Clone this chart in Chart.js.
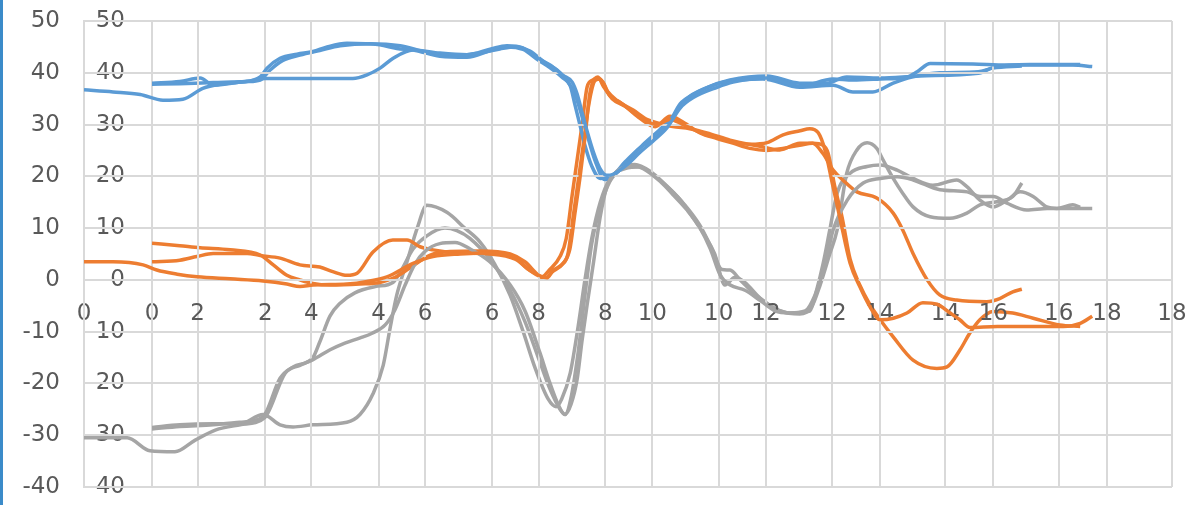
<!DOCTYPE html>
<html>
<head>
<meta charset="utf-8">
<script src="https://cdn.jsdelivr.net/npm/chart.js@4"></script>
<style>
  html, body { margin: 0; padding: 0; background: #fff; }
  #wrap { position: relative; width: 1193px; height: 505px; overflow: hidden; }
  #wrap canvas { position: absolute; left: 0; top: 0; }
  #edge { position: absolute; left: 0; top: 0; width: 3px; height: 505px; background: #3b8bc9; }
</style>
</head>
<body>
<div id="wrap">
  <canvas id="graficaB" width="1193" height="505"></canvas>
  <canvas id="graficaA" width="1193" height="505"></canvas>
  <div id="edge"></div>
</div>
<script>
/* Datos: dos graficas de Excel superpuestas, ejes x 0..18 cada una */

// Grafica A (ensayo que empieza en el primer eje)
const azulA = [[0,36.7],[0.51,36.3],[0.99,35.8],[1.39,34.7],[1.74,34.9],[2.09,37],[2.39,37.8],[2.87,38.3],[3.18,38.9],[4.73,38.9],[4.98,39.6],[5.21,40.9],[5.44,42.8],[5.79,44.4],[6.26,43.8],[6.74,43.5],[7.16,44.6],[7.44,45.2],[7.72,44.8],[7.99,42.8],[8.20,41.5],[8.43,39.5],[8.59,38.2],[8.68,35.8],[8.76,32.5],[8.85,28.8],[8.96,24.8],[9.08,21.5],[9.20,20.2],[9.31,20.4],[9.55,22.2],[9.78,24.6],[10.01,26.8],[10.26,29.4],[10.49,33.2],[10.72,35.2],[11.14,37.2],[11.42,38.2],[12.02,39],[12.60,37.4],[13.18,38.8],[13.53,38.6],[14.01,38.8],[14.48,39.2],[14.66,40.2],[14.89,41.8],[15.64,41.7],[16.24,41.5],[17.40,41.5],[17.74,41.2]];
const naranjaA = [[0,3.5],[0.51,3.5],[1.04,2.9],[1.28,1.9],[1.64,1.1],[1.99,0.6],[2.57,0.2],[3.15,-0.2],[3.57,-0.8],[3.80,-1.3],[4.03,-1],[4.63,-0.8],[4.98,-0.3],[5.33,0.6],[5.79,3.2],[6.14,4.5],[6.62,5],[7.14,5.2],[7.55,4.6],[7.80,2.2],[8.02,0.8],[8.15,0.4],[8.25,1.8],[8.43,3.2],[8.55,6],[8.64,13],[8.73,20],[8.82,28],[8.90,36],[9.01,38.9],[9.13,38.2],[9.25,35.6],[9.43,34.3],[9.66,32.4],[9.91,30.6],[10.08,30],[10.31,31],[10.54,30],[10.84,28.5],[11.14,27.5],[11.42,26.6],[11.72,26.2],[12.02,26.5],[12.30,28],[12.60,28.8],[12.77,29.2],[12.92,28.4],[13.04,25],[13.16,19],[13.30,12],[13.48,3.2],[13.65,-1.3],[13.83,-5.2],[14.01,-7.7],[14.24,-7.4],[14.48,-6.4],[14.76,-4.4],[15.01,-4.7],[15.24,-6.4],[15.41,-7.7],[15.59,-9.2],[16.07,-9],[16.65,-9],[17.23,-9],[17.53,-8.4],[17.74,-7]];
const grisA = [[0,-30.5],[0.76,-30.5],[1.16,-33],[1.60,-33.2],[1.95,-31],[2.31,-29],[2.75,-28],[3.18,-26.6],[3.54,-18],[3.80,-16.5],[4.03,-15.4],[4.33,-13.5],[4.59,-12.2],[4.86,-11.2],[5.07,-10.3],[5.30,-8.7],[5.47,-5.8],[5.65,-1],[5.82,3],[6.00,5.5],[6.26,7],[6.53,7.2],[6.79,6],[7.14,3.5],[7.50,-1],[7.76,-6],[8.02,-14],[8.20,-20],[8.34,-24],[8.46,-26],[8.57,-24],[8.68,-19],[8.76,-12],[8.85,-5],[8.96,3],[9.08,12],[9.20,18],[9.38,21],[9.66,22],[9.84,21.5],[10.14,19],[10.36,16.5],[10.61,13.5],[10.84,10],[11.02,6],[11.19,1],[11.37,-1],[11.63,-2],[11.90,-4],[12.16,-6],[12.42,-6.4],[12.69,-6],[12.86,-3],[13.04,3],[13.18,9.6],[13.43,15.4],[13.71,18.7],[14.01,19.6],[14.31,19.9],[14.59,19.3],[15.06,17.4],[15.54,17],[15.77,16.1],[16.00,16.1],[16.24,14.8],[16.59,13.5],[16.95,13.8],[17.23,13.8],[17.74,13.8]];

// Grafica B (dos ensayos que empiezan en el segundo eje)
const azulB1 = [[0,38],[0.49,38.3],[0.85,39],[1.08,37.6],[1.55,38.2],[1.91,39.2],[2.03,40.9],[2.26,42.8],[2.56,43.6],[2.84,44.1],[3.09,45],[3.44,45.7],[4.02,45.4],[4.32,44.7],[4.61,44.4],[5.08,43.2],[5.56,43],[5.98,44.3],[6.26,45],[6.55,44.5],[6.81,42.5],[7.02,41],[7.25,39],[7.38,37.5],[7.46,34],[7.55,30],[7.64,26],[7.76,22],[7.91,19.6],[8.08,19.8],[8.35,22.8],[8.61,25.5],[8.88,27.5],[9.11,30],[9.32,34],[9.55,35.8],[10.02,38],[10.38,38.6],[10.78,38.8],[11.43,37.2],[12.02,37.6],[12.37,36.3],[12.72,36.3],[13.08,38],[13.43,39.2],[13.90,40],[14.58,40.2],[14.84,40.9],[15.35,41.3]];
const azulB2 = [[0,37.8],[0.49,37.9],[1.08,38.1],[1.68,38.3],[1.91,38.6],[2.08,40.5],[2.31,42.4],[2.61,43.4],[2.96,44.3],[3.32,45.2],[3.85,45.6],[4.38,45.2],[4.83,44],[5.26,43.2],[5.79,43.8],[6.14,44.6],[6.40,45],[6.67,44.2],[6.93,42],[7.15,40.5],[7.32,38.5],[7.46,36],[7.55,33],[7.68,28],[7.82,23],[7.99,19.4],[8.17,20.4],[8.44,23.5],[8.70,26.5],[8.96,29],[9.19,31.5],[9.44,35],[9.76,37],[10.20,38.6],[10.85,39.4],[11.43,38],[11.91,38],[12.26,39.2],[12.85,39],[13.55,39.4],[14.58,39.9],[14.84,41],[15.49,41.6],[16.38,41.6]];
const naranjaB1 = [[0,7.1],[0.49,6.6],[0.85,6.2],[1.38,5.8],[1.91,4.8],[2.14,2.9],[2.38,0.9],[2.61,0],[2.84,-0.7],[3.14,-1],[3.67,-0.8],[4.02,-0.5],[4.29,0.5],[4.55,2.3],[4.91,4.8],[5.26,5.5],[5.79,5.6],[6.32,5],[6.58,3.5],[6.81,1],[6.93,0.2],[7.06,1.5],[7.24,3],[7.34,5],[7.43,12],[7.52,19],[7.61,26],[7.71,34],[7.82,38.5],[7.91,38.8],[8.03,36.5],[8.21,34.6],[8.49,32.8],[8.73,31],[8.96,30.2],[9.19,29.6],[9.49,29.2],[9.85,28.2],[10.20,27],[10.73,25.8],[11.08,25.1],[11.43,26.4],[11.66,26.4],[11.84,24.4],[12.02,21.2],[12.19,19.3],[12.44,17],[12.79,15.8],[13.08,12.9],[13.25,9.6],[13.43,5.1],[13.68,0],[13.90,-2.9],[14.20,-3.9],[14.73,-4.2],[14.96,-3.6],[15.19,-2.3],[15.35,-1.8]];
const naranjaB2 = [[0,3.5],[0.49,3.8],[0.79,4.5],[1.08,5.1],[1.68,5.1],[1.91,4.7],[2.26,4.2],[2.61,2.9],[2.96,2.5],[3.19,1.6],[3.44,0.9],[3.62,1.3],[3.90,5.4],[4.25,7.7],[4.50,7.7],[4.73,6.4],[4.96,5.8],[5.43,5.2],[5.96,5],[6.41,4],[6.67,1.8],[6.88,0.6],[7.02,2],[7.20,4.5],[7.31,8],[7.41,16],[7.50,23],[7.59,30],[7.68,37.3],[7.78,38.6],[7.87,39.2],[7.96,37.5],[8.12,35],[8.35,33.5],[8.61,31.2],[8.88,29.6],[9.14,31.6],[9.37,30.5],[9.67,28.4],[9.97,27.3],[10.25,26.4],[10.55,25.4],[10.85,25],[11.13,25.4],[11.43,26],[11.66,26.4],[11.84,26],[11.93,24.5],[12.05,18],[12.18,12],[12.32,4],[12.49,-1],[12.67,-4.8],[12.85,-7.7],[13.08,-11],[13.43,-15.5],[13.85,-17.1],[14.03,-16.8],[14.26,-13.5],[14.43,-10.3],[14.61,-7.7],[14.84,-6.1],[15.19,-6.4],[15.55,-7.4],[16.02,-8.7],[16.38,-9]];
const grisB1 = [[0,-28.5],[0.49,-28],[1.08,-27.8],[1.55,-27.8],[1.96,-26],[2.26,-28],[2.49,-28.4],[2.84,-28],[3.44,-27.5],[3.67,-26],[3.90,-22],[4.08,-16.5],[4.20,-9.4],[4.32,-2.9],[4.50,3.5],[4.68,10],[4.85,14.4],[5.21,13],[5.52,10],[5.79,7.3],[6.05,3],[6.32,-3],[6.55,-10],[6.76,-17],[6.99,-23],[7.13,-24.5],[7.23,-23],[7.38,-18],[7.52,-9],[7.64,0],[7.76,8],[7.91,15],[8.08,19.5],[8.35,21.5],[8.61,21.8],[8.88,20],[9.14,17.5],[9.40,14.5],[9.67,10.5],[9.88,6],[10.06,2],[10.20,1.9],[10.38,0],[10.61,-2.5],[10.85,-4.5],[11.08,-6],[11.43,-6.6],[11.65,-5],[11.79,-1],[11.96,5],[12.09,9.6],[12.26,20.6],[12.44,25.1],[12.62,26.5],[12.79,25.4],[12.90,23.2],[13.08,19.6],[13.25,16.7],[13.43,14.1],[13.73,12.2],[14.08,11.9],[14.38,12.9],[14.61,14.5],[14.91,15.1],[15.19,16.1],[15.35,18.7]];
const grisB2 = [[0,-28.8],[0.49,-28.3],[1.08,-28],[1.55,-27.5],[1.96,-26.4],[2.26,-19],[2.49,-16.8],[2.84,-15],[2.96,-12],[3.14,-7],[3.32,-4.5],[3.58,-2.5],[3.94,-1.3],[4.25,-0.5],[4.38,1.5],[4.61,6],[4.85,8.5],[5.17,10],[5.38,9.5],[5.61,8],[5.96,4],[6.32,-2],[6.58,-8],[6.85,-16],[7.02,-21],[7.20,-25],[7.29,-26],[7.39,-23],[7.52,-14],[7.64,-3],[7.76,7],[7.91,14],[8.08,19],[8.29,21.5],[8.52,22.3],[8.79,21],[9.05,18.5],[9.32,15.5],[9.58,11.5],[9.76,8.5],[9.93,5],[10.11,-1],[10.29,0.5],[10.46,-0.5],[10.73,-3.5],[10.99,-5.5],[11.26,-6.4],[11.61,-6],[11.73,-1.9],[11.84,3],[11.96,9.6],[12.09,16.7],[12.32,20.6],[12.62,21.9],[12.85,22.2],[13.15,21.2],[13.43,19.6],[13.78,18.3],[14.20,19.3],[14.38,18],[14.61,15.4],[14.84,14.1],[15.09,15.4],[15.32,17],[15.55,16.1],[15.79,14.1],[15.97,13.8],[16.25,14.5],[16.38,14]];

const azul = '#5B9BD5';
const naranja = '#ED7D31';
const gris = '#A5A5A5';
const colorRejilla = '#D9D9D9';
const fuente = { family: 'DejaVu Sans', size: 23 };
// etiquetas del eje x en dos lineas (la primera vacia) para bajarlas bajo la linea del 0
const fuenteX = { family: 'DejaVu Sans', size: 23, lineHeight: 0.9 };

function serie(puntos, color) {
    return {
        data: puntos.map(p => ({ x: p[0], y: p[1] })),
        borderColor: color,
        backgroundColor: color,
        borderWidth: 3.5,
        pointRadius: 0,
        fill: false,
        cubicInterpolationMode: 'monotone'
    };
}

// Quita los margenes extra que Chart.js reserva para las etiquetas
function sinMargen(scale) {
    scale.paddingTop = 0;
    scale.paddingBottom = 0;
    scale.paddingLeft = 0;
    scale.paddingRight = 0;
}

// Crea una grafica cuyo area de trazado va de izquierda a derecha (pixeles)
function crearGrafica(id, series, izquierda, derecha, separacionY) {
    let ctx = document.getElementById(id).getContext('2d');
    return new Chart(ctx, {
        type: 'line',
        data: { datasets: series },
        options: {
            responsive: false,
            animation: false,
            layout: { padding: { left: 0, top: 21, right: 1193 - derecha, bottom: 18 } },
            plugins: { legend: { display: false }, tooltip: { enabled: false } },
            scales: {
                x: {
                    type: 'linear',
                    position: { y: 0 },
                    min: 0,
                    max: 18,
                    afterFit: function(scale) { sinMargen(scale); scale.height = 0; },
                    ticks: {
                        stepSize: 2, font: fuenteX, color: '#595959', maxRotation: 0,
                        callback: function(valor) { return ['', String(valor)]; }
                    },
                    grid: { color: colorRejilla, lineWidth: 2, drawTicks: false },
                    border: { color: colorRejilla, width: 2 }
                },
                y: {
                    min: -40,
                    max: 50,
                    afterFit: function(scale) { sinMargen(scale); scale.width = izquierda; },
                    ticks: { stepSize: 10, font: fuente, color: '#595959', padding: separacionY },
                    grid: { color: colorRejilla, lineWidth: 2, drawTicks: false },
                    border: { color: colorRejilla, width: 2 }
                }
            }
        }
    });
}

crearGrafica('graficaB', [
    serie(azulB1, azul), serie(azulB2, azul),
    serie(naranjaB1, naranja), serie(naranjaB2, naranja),
    serie(grisB1, gris), serie(grisB2, gris)
], 152, 1172, 27);

crearGrafica('graficaA', [
    serie(azulA, azul), serie(naranjaA, naranja), serie(grisA, gris)
], 84, 1107, 24);
</script>
</body>
</html>
